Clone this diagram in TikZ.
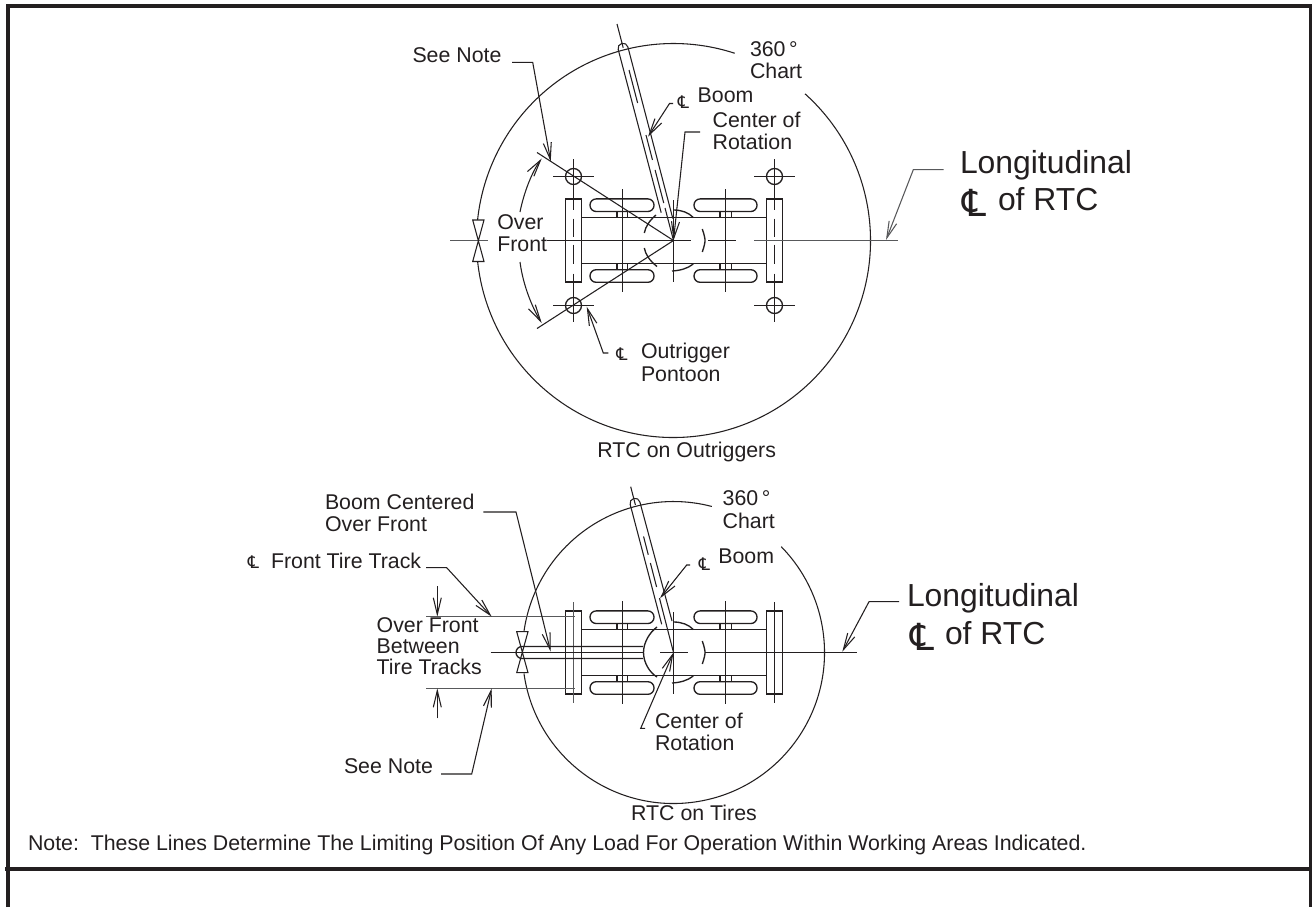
\documentclass[tikz,border=0pt]{standalone}
\usepackage{fontspec}
\setmainfont{Liberation Sans}
\newfontfamily\dvf{DejaVu Sans}
\usetikzlibrary{arrows.meta,calc}
\definecolor{ink}{HTML}{231F20}
\definecolor{thin}{HTML}{58595B}
\tikzset{
  x=0.75pt,y=-0.75pt,
  geom/.style={draw=ink,line width=1pt},
  fine/.style={draw=ink,line width=0.8pt},
  greyline/.style={draw=thin,line width=1pt},
  frame/.style={draw=ink,line width=2.4pt},
  lead/.style={draw=ink,line width=0.8pt,-{Straight Barb[length=12.5pt,width=6pt]}},
  lbl/.style={inner sep=0pt,outer sep=0pt,font=\fontsize{16pt}{16pt}\selectfont,text=ink,anchor=west,align=left},
  big/.style={lbl,font=\fontsize{23.9pt}{25pt}\selectfont},
  ctr/.style={lbl,anchor=center,align=center},
  cl/.style={inner sep=0pt,outer sep=0pt,text=ink,font=\dvf\fontsize{13pt}{13pt}\selectfont},
  bigcl/.style={inner sep=0pt,outer sep=0pt,text=ink,font=\dvf\fontsize{28pt}{28pt}\selectfont},
}
% vehicle plan, origin at pivot
\newcommand{\vehicle}{%
  \draw[geom] (-108,-41.5) rectangle (-92,41.5);
  \draw[geom] (93,-41.5) rectangle (109,41.5);
  \draw[geom] (-92,-23) -- (93,-23) (-92,23) -- (93,23);
  \foreach \xa/\xb in {-83.5/-19.5,20.5/83.5}{
    \foreach \yy in {-35.3,35.5}{
      \draw[geom,rounded corners=4.6pt] (\xa,\yy-6.3) rectangle (\xb,\yy+6.3);
    }
  }
  \foreach \xa/\xb in {-56.5/-46,46.5/58}{
    \draw[geom] (\xa,-29) -- (\xa,-23) (\xb,-29) -- (\xb,-23);
    \draw[geom] (\xa,29) -- (\xa,23) (\xb,29) -- (\xb,23);
  }
  \draw[geom] (-51,-51.5) -- (-51,51) (52,-51.5) -- (52,51);
  \draw[geom] (0,-40.5) -- (0,41);
  \draw[geom] (0,-30.5) .. controls (8,-30.5) and (15,-28) .. (19.8,-23);
  \draw[geom] (-1.5,30.5) .. controls (7,30) and (14,28) .. (19.8,23.5);
  \draw[geom] (28.8,-11.5) .. controls (31,-5) and (31.5,-2) .. (31.5,0) .. controls (31.5,2) and (31,5) .. (28.8,11.5);
}
\begin{document}
\begin{tikzpicture}
\useasboundingbox (0,0) rectangle (1312,907);
\fill[white] (0,0) rectangle (1312,907);
% frame
\draw[frame] (8,907) -- (8,6) -- (1311,6) -- (1311,907);
\draw[frame,line width=3pt] (5,869) -- (1311,869);

%=== top view
\coordinate (P) at (673.5,240.5);
\begin{scope}[shift={(P)}]
  \vehicle
  \draw[geom] (-17.5,-25.5) .. controls (-24,-20) and (-28,-14) .. (-29.2,-7.5);
  \draw[geom] (-29.2,7.5) .. controls (-28,14) and (-24,20) .. (-16.5,26);
  \foreach \sx in {-100,101}{
    \draw[geom] (\sx,-81.5) -- (\sx,-31) (\sx,-22) -- (\sx,-4) (\sx,4) -- (\sx,23) (\sx,33) -- (\sx,81.5);
    \draw[geom] (\sx,-64) circle[radius=8];
    \draw[geom] (\sx,65) circle[radius=8];
    \draw[geom] (\sx-20.5,-64) -- (\sx+20.5,-64);
    \draw[geom] (\sx-20.5,65) -- (\sx+20.5,65);
  }
\end{scope}
\draw[fine] ($(P)+(71.9:197 and -197)$) arc[start angle=-71.9,end angle=-174,radius=197];
\draw[fine] ($(P)+(186:197 and -197)$) arc[start angle=-186,end angle=-408.1,radius=197];
% centre line
\draw[geom] (546.7,240.5) -- (691,240.5) (708.3,240.5) -- (735.7,240.5);
\draw[greyline] (450,240.5) -- (488,240.5) (754,240.5) -- (898,240.5);
% hourglass
\draw[fine] (472.7,220) -- (484,220) -- (472.7,261.5) -- (484,261.5) -- cycle;
% limit lines
\coordinate (ULim) at (537,152.5);
\coordinate (LLim) at (537,328.5);
\draw[fine] (ULim) -- (P) -- (LLim);
% boom
\coordinate (BTip) at (617,24);
\draw[fine] (BTip) -- ($(BTip)!0.11!(P)$);
\draw[fine] (661.2,212.7) -- (618.2,49.5) arc[start angle=-194.6,end angle=-14.6,radius=5] -- (672.8,218.5);
\foreach \ta/\tb in {0.2125/0.365,0.513/0.628,0.674/0.827,0.85/1}{
  \draw[fine] ($(BTip)!\ta!(P)$) -- ($(BTip)!\tb!(P)$);
}
% arcs with arrows
\draw[lead] (520,212) .. controls (524,192) and (532,172) .. (541.7,158.5);
\draw[lead] (520,262) .. controls (523,285) and (532,307) .. (541.7,323);
% leaders
\node[lbl] (seenote1) at (412.5,55) {See Note};
\draw[lead] (512,62.3) -- (532.7,62.3) -- (550.7,161.5);
\node[lbl] (chart1) at (750,60) {360\,°\\[1pt]Chart};
\node[cl] (clboom1) at (683.5,102) {℄};
\node[lbl] (boom1) at (697.7,95) {Boom};
\draw[lead] (673,103.5) -- (669.5,103.5) -- (648,136.7);
\node[lbl] (cor1) at (712.7,131) {Center of\\[1pt]Rotation};
\draw[lead] (700,132) -- (685,132) -- (P);
\node[lbl] (over1) at (497.3,233) {Over\\[1pt]Front};
\node[cl] (clout) at (622,354) {℄};
\node[lbl] (outr) at (641,362.3) {Outrigger\\[1pt]Pontoon};
\draw[lead] (608.3,353) -- (603.3,353) -- (586.7,306.7);
\node[big] (long1) at (960,165) {Longitudinal};
\node[big] (cof1) at (998,199) {of RTC};
\node[bigcl] (clbig1) at (974.5,202.5) {℄};
\draw[lead,draw=thin] (943.5,169.7) -- (913.3,169.7) -- (886,240);
\node[ctr] (rtc1) at (686.7,451.7) {RTC on Outriggers};

%=== bottom view
\coordinate (Q) at (673.5,652.5);
\begin{scope}[shift={(Q)}]
  \vehicle
  \draw[geom] (-16.5,-25.5) .. controls (-24,-20) and (-30,-10) .. (-30,0) .. controls (-30,10) and (-24,20) .. (-16.5,24.5);
  \draw[greyline] (-100,-50.5) -- (-100,50.5);
  \draw[geom] (101,-50.5) -- (101,50.5);
\end{scope}
\draw[fine] ($(Q)+(75.3:151 and -151)$) arc[start angle=-75.3,end angle=-172,radius=151];
\draw[fine] ($(Q)+(188:151 and -151)$) arc[start angle=-188,end angle=-404.5,radius=151];
% centre lines
\draw[geom] (490.7,652.5) -- (643,652.5) (660,652.5) -- (687.5,652.5);
\draw[geom] (705,652.5) -- (857,652.5);
% boom over front
\draw[geom] (643,646.5) -- (522,646.5) arc[start angle=-90,end angle=-270,radius=6] -- (643,658.5);
% hourglass
\draw[fine] (516.7,631.7) -- (528,631.7) -- (516.7,672.7) -- (528,672.7) -- cycle;
% tire track lines
\draw[greyline] (426,616.7) -- (575,616.7) (426,688.3) -- (575,688.3);
% boom
\coordinate (BTip2) at (630.7,486.7);
\draw[fine] (BTip2) -- ($(BTip2)!0.11!(Q)$);
\draw[fine] (661.7,624.3) -- (630.2,504.5) arc[start angle=-194.6,end angle=-14.6,radius=5] -- (672,621);
\foreach \ta/\tb in {0.30/0.41,0.46/0.605,0.672/1}{
  \draw[fine] ($(BTip2)!\ta!(Q)$) -- ($(BTip2)!\tb!(Q)$);
}
% texts and leaders bottom
\node[lbl] (bcof) at (325,513) {Boom Centered\\[1pt]Over Front};
\draw[lead] (483.3,512) -- (516,512) -- (550.7,651.7);
\node[lbl] (chart2) at (722.7,509.5) {360\,°\\[1pt]Chart};
\node[cl] (clboom2) at (704.5,564) {℄};
\node[lbl] (boom2) at (718.3,556.7) {Boom};
\draw[lead] (690,565) -- (686.7,565) -- (660,598.3);
\node[cl] (cltrack) at (253.5,562.5) {℄};
\node[lbl] (track) at (271,560.7) {Front Tire Track};
\draw[lead] (426,567.7) -- (446.7,567.7) -- (491.7,616.7);
\draw[lead] (437.3,586) -- (437.3,616.7);
\draw[lead] (437.3,718.3) -- (437.3,688.3);
\node[lbl] (between) at (376.7,646.3) {Over Front\\Between\\Tire Tracks};
\node[lbl] (seenote2) at (344,765.7) {See Note};
\draw[lead] (441,774) -- (471.7,774) -- (491.7,688.3);
\node[lbl] (cor2) at (655,732) {Center of\\[1pt]Rotation};
\draw[lead] (645,728.3) -- (640.7,728.3) -- (Q);
\node[big] (long2) at (907,598) {Longitudinal};
\node[big] (cof2) at (945,633) {of RTC};
\node[bigcl] (clbig2) at (922,637) {℄};
\draw[lead] (899,601.7) -- (869,601.7) -- (842.3,651.7);
\node[ctr] (rtc2) at (694,813) {RTC on Tires};
\node[lbl] (note) at (28,845) {Note:\ \ These Lines Determine The Limiting Position Of Any Load For Operation Within Working Areas Indicated.};
\end{tikzpicture}
\end{document}
